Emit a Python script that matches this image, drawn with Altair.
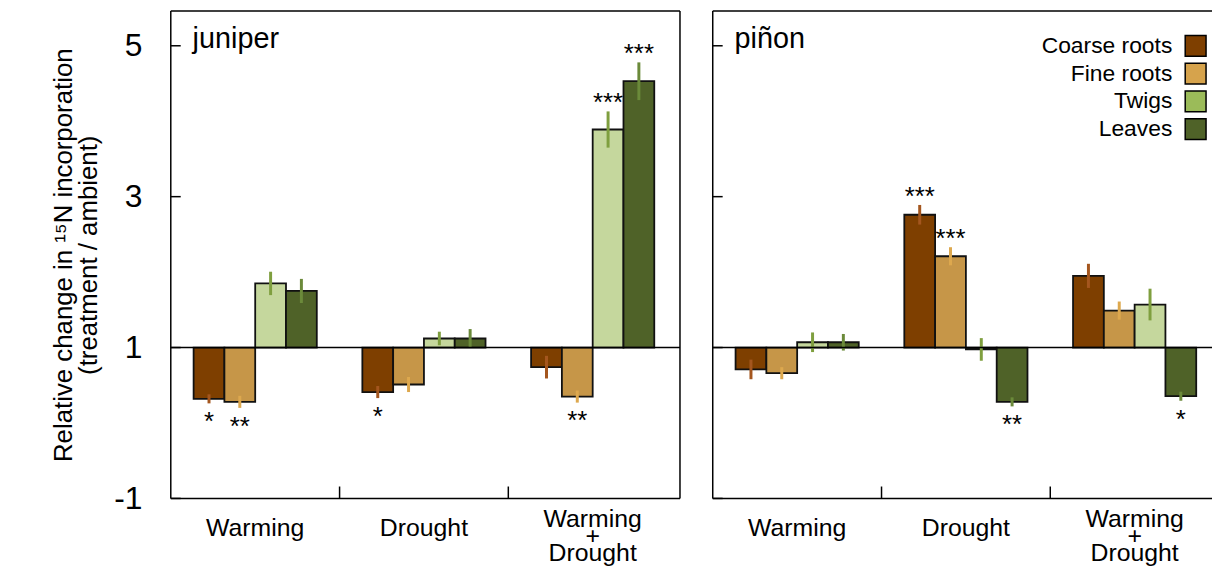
import altair as alt
import pandas as pd

# ---------------- data ----------------
groups = ["Warming", "Drought", "Warming + Drought"]
group_labels = ["Warming", "Drought", "Warming\n+\nDrought"]
parts = ["Coarse roots", "Fine roots", "Twigs", "Leaves"]

juniper_values = [
    [0.32, 0.28, 1.85, 1.75],
    [0.41, 0.51, 1.12, 1.12],
    [0.74, 0.35, 3.89, 4.53],
]
juniper_se = [
    [0.06, 0.08, 0.155, 0.16],
    [0.08, 0.10, 0.09, 0.125],
    [0.15, 0.08, 0.24, 0.25],
]
juniper_stars = [
    ["*", "**", "", ""],
    ["*", "", "", ""],
    ["", "**", "***", "***"],
]

pinon_values = [
    [0.71, 0.66, 1.07, 1.07],
    [2.76, 2.21, 0.975, 0.28],
    [1.95, 1.49, 1.57, 0.355],
]
pinon_se = [
    [0.13, 0.08, 0.13, 0.11],
    [0.13, 0.12, 0.15, 0.06],
    [0.16, 0.12, 0.21, 0.06],
]
pinon_stars = [
    ["", "", "", ""],
    ["***", "***", "", "**"],
    ["", "", "", "*"],
]

y_ticks = [-1, 1, 3, 5]

bar_colors = ["#7E3F00", "#C69648", "#C5D79D", "#4F6228"]
legend_colors = ["#7E3F00", "#D6A34C", "#9BBB59", "#4F6228"]
err_colors = ["#A4561E", "#DDA84E", "#7F9F3F", "#6B8A3A"]

FONT = "Liberation Sans"
H = 491
Y_DOMAIN = [-1, 5.46]
PI = 0.27
STEP = 170


def panel_df(values, ses, stars):
    rows = []
    for gi, g in enumerate(groups):
        for pi, p in enumerate(parts):
            v = values[gi][pi]
            s = ses[gi][pi]
            rows.append(dict(group=g, part=p, value=v, se=s, lo=v - s, hi=v + s,
                             star=stars[gi][pi]))
    return pd.DataFrame(rows)


def make_panel(name, values, ses, stars, W, left_axis, legend, right_border):
    df = panel_df(values, ses, stars)
    po = (W / STEP - 3 + PI) / 2
    al = 23 / (W - STEP * (3 - PI))
    xs = alt.Scale(domain=groups, paddingInner=PI, paddingOuter=po, align=al)
    X = alt.X("group:N", sort=groups, scale=xs, axis=None)
    XO = alt.XOffset("part:N", sort=parts,
                     scale=alt.Scale(domain=parts, paddingInner=0, paddingOuter=0))
    ysc = alt.Scale(domain=Y_DOMAIN, nice=False, zero=False)
    if left_axis:
        yaxis = alt.Axis(values=y_ticks, labelFontSize=32, labelFont=FONT,
                         labelColor="black", domain=False, ticks=False, grid=False,
                         labelPadding=29, labelExpr="'' + datum.value",
                         titleFontSize=26, titleFont=FONT, titleFontWeight="normal",
                         titleColor="black", titleLineHeight=26, titlePadding=12)
        Y = alt.Y("value:Q", scale=ysc, axis=yaxis,
                  title=["Relative change in \u00b9\u2075N incorporation",
                         "(treatment / ambient)"])
    else:
        Y = alt.Y("value:Q", scale=ysc, axis=None)

    base = alt.Chart(df)
    one = alt.Chart(pd.DataFrame({"a": [0]}))

    bars = base.mark_bar(stroke="#111111", strokeWidth=1.8).encode(
        x=X, xOffset=XO, y=Y, y2=alt.datum(1),
        color=alt.Color("part:N", sort=parts,
                        scale=alt.Scale(domain=parts, range=bar_colors), legend=None),
    )
    errs = base.mark_rule(strokeWidth=3).encode(
        x=X, xOffset=XO, y=alt.Y("lo:Q"), y2="hi:Q",
        stroke=alt.Stroke("part:N", sort=parts,
                          scale=alt.Scale(domain=parts, range=err_colors), legend=None),
    )
    baseline = alt.Chart(pd.DataFrame({"b": [1]})).mark_rule(
        color="black", strokeWidth=1.5).encode(y="b:Q")
    yt = alt.Chart(pd.DataFrame({"t": y_ticks})).mark_rule(
        color="black", strokeWidth=1.5).encode(y="t:Q", x=alt.value(0), x2=alt.value(10))
    xt = alt.Chart(pd.DataFrame({"group": groups[1:]})).mark_rule(
        color="black", strokeWidth=1.5, xOffset=-STEP / 2).encode(
        x=X, y=alt.value(H - 12), y2=alt.value(H))

    up = base.transform_filter("datum.star != '' && datum.value >= 1").mark_text(
        baseline="alphabetic", fontSize=26, font=FONT, color="black").encode(
        x=X, xOffset=XO, y="hi:Q", text="star:N")
    down = base.transform_filter("datum.star != '' && datum.value < 1").mark_text(
        baseline="alphabetic", fontSize=26, font=FONT, color="black", dy=27).encode(
        x=X, xOffset=XO, y="lo:Q", text="star:N")

    title = one.mark_text(align="left", baseline="alphabetic", fontSize=29,
                          font=FONT, color="black").encode(
        x=alt.value(22), y=alt.value(37), text=alt.value(name))

    lab_df = pd.DataFrame({"group": groups, "label": group_labels})
    lab1 = alt.Chart(lab_df).transform_filter("indexof(datum.label, '\\n') < 0").mark_text(
        baseline="alphabetic", fontSize=25, font=FONT, color="black").encode(
        x=X, y=alt.value(H + 38), text="label:N")
    lab3 = alt.Chart(lab_df).transform_filter("indexof(datum.label, '\\n') >= 0").mark_text(
        baseline="alphabetic", fontSize=25, font=FONT, color="black",
        lineBreak="\n", lineHeight=17).encode(
        x=X, y=alt.value(H + 29), text="label:N")

    fc = dict(color="black", strokeWidth=1.5)
    frame = [
        one.mark_rule(**fc).encode(x=alt.value(0), x2=alt.value(W), y=alt.value(0)),
        one.mark_rule(**fc).encode(x=alt.value(0), x2=alt.value(W), y=alt.value(H)),
        one.mark_rule(**fc).encode(x=alt.value(0), y=alt.value(0), y2=alt.value(H)),
    ]
    if right_border:
        frame.append(one.mark_rule(**fc).encode(x=alt.value(W), y=alt.value(0),
                                                 y2=alt.value(H)))

    layers = [bars, errs, baseline, yt, xt, up, down, title, lab1, lab3] + frame
    if legend:
        leg = alt.Chart(pd.DataFrame({"part": parts})).mark_point(
            shape="square", filled=True, opacity=0, size=1).encode(
            fill=alt.Fill("part:N", sort=parts,
                          scale=alt.Scale(domain=parts, range=legend_colors),
                          legend=alt.Legend(orient="none", legendX=475, legendY=23.5,
                                            title=None, padding=0,
                                            labelFontSize=23, labelFont=FONT,
                                            labelColor="black", labelAlign="right",
                                            labelOffset={"expr": "-35"}, labelLimit=0,
                                            symbolType="square", symbolSize=441,
                                            symbolStrokeColor="black",
                                            symbolStrokeWidth=1.5, symbolOpacity=1,
                                            rowPadding=1)))
        layers.append(leg)
    return alt.layer(*layers).properties(width=W, height=H)


left = make_panel("juniper", juniper_values, juniper_se, juniper_stars, 513,
                  True, False, True)
right = make_panel("pi\u00f1on", pinon_values, pinon_se, pinon_stars, 503,
                   False, True, False)

chart = alt.hconcat(left, right, spacing=31).resolve_scale(
    fill="independent").configure_view(stroke=None).properties(
    padding={"left": 42, "top": 0, "right": 0, "bottom": 0})

chart.save("out.html", embed_options={"renderer": "svg", "actions": False})
